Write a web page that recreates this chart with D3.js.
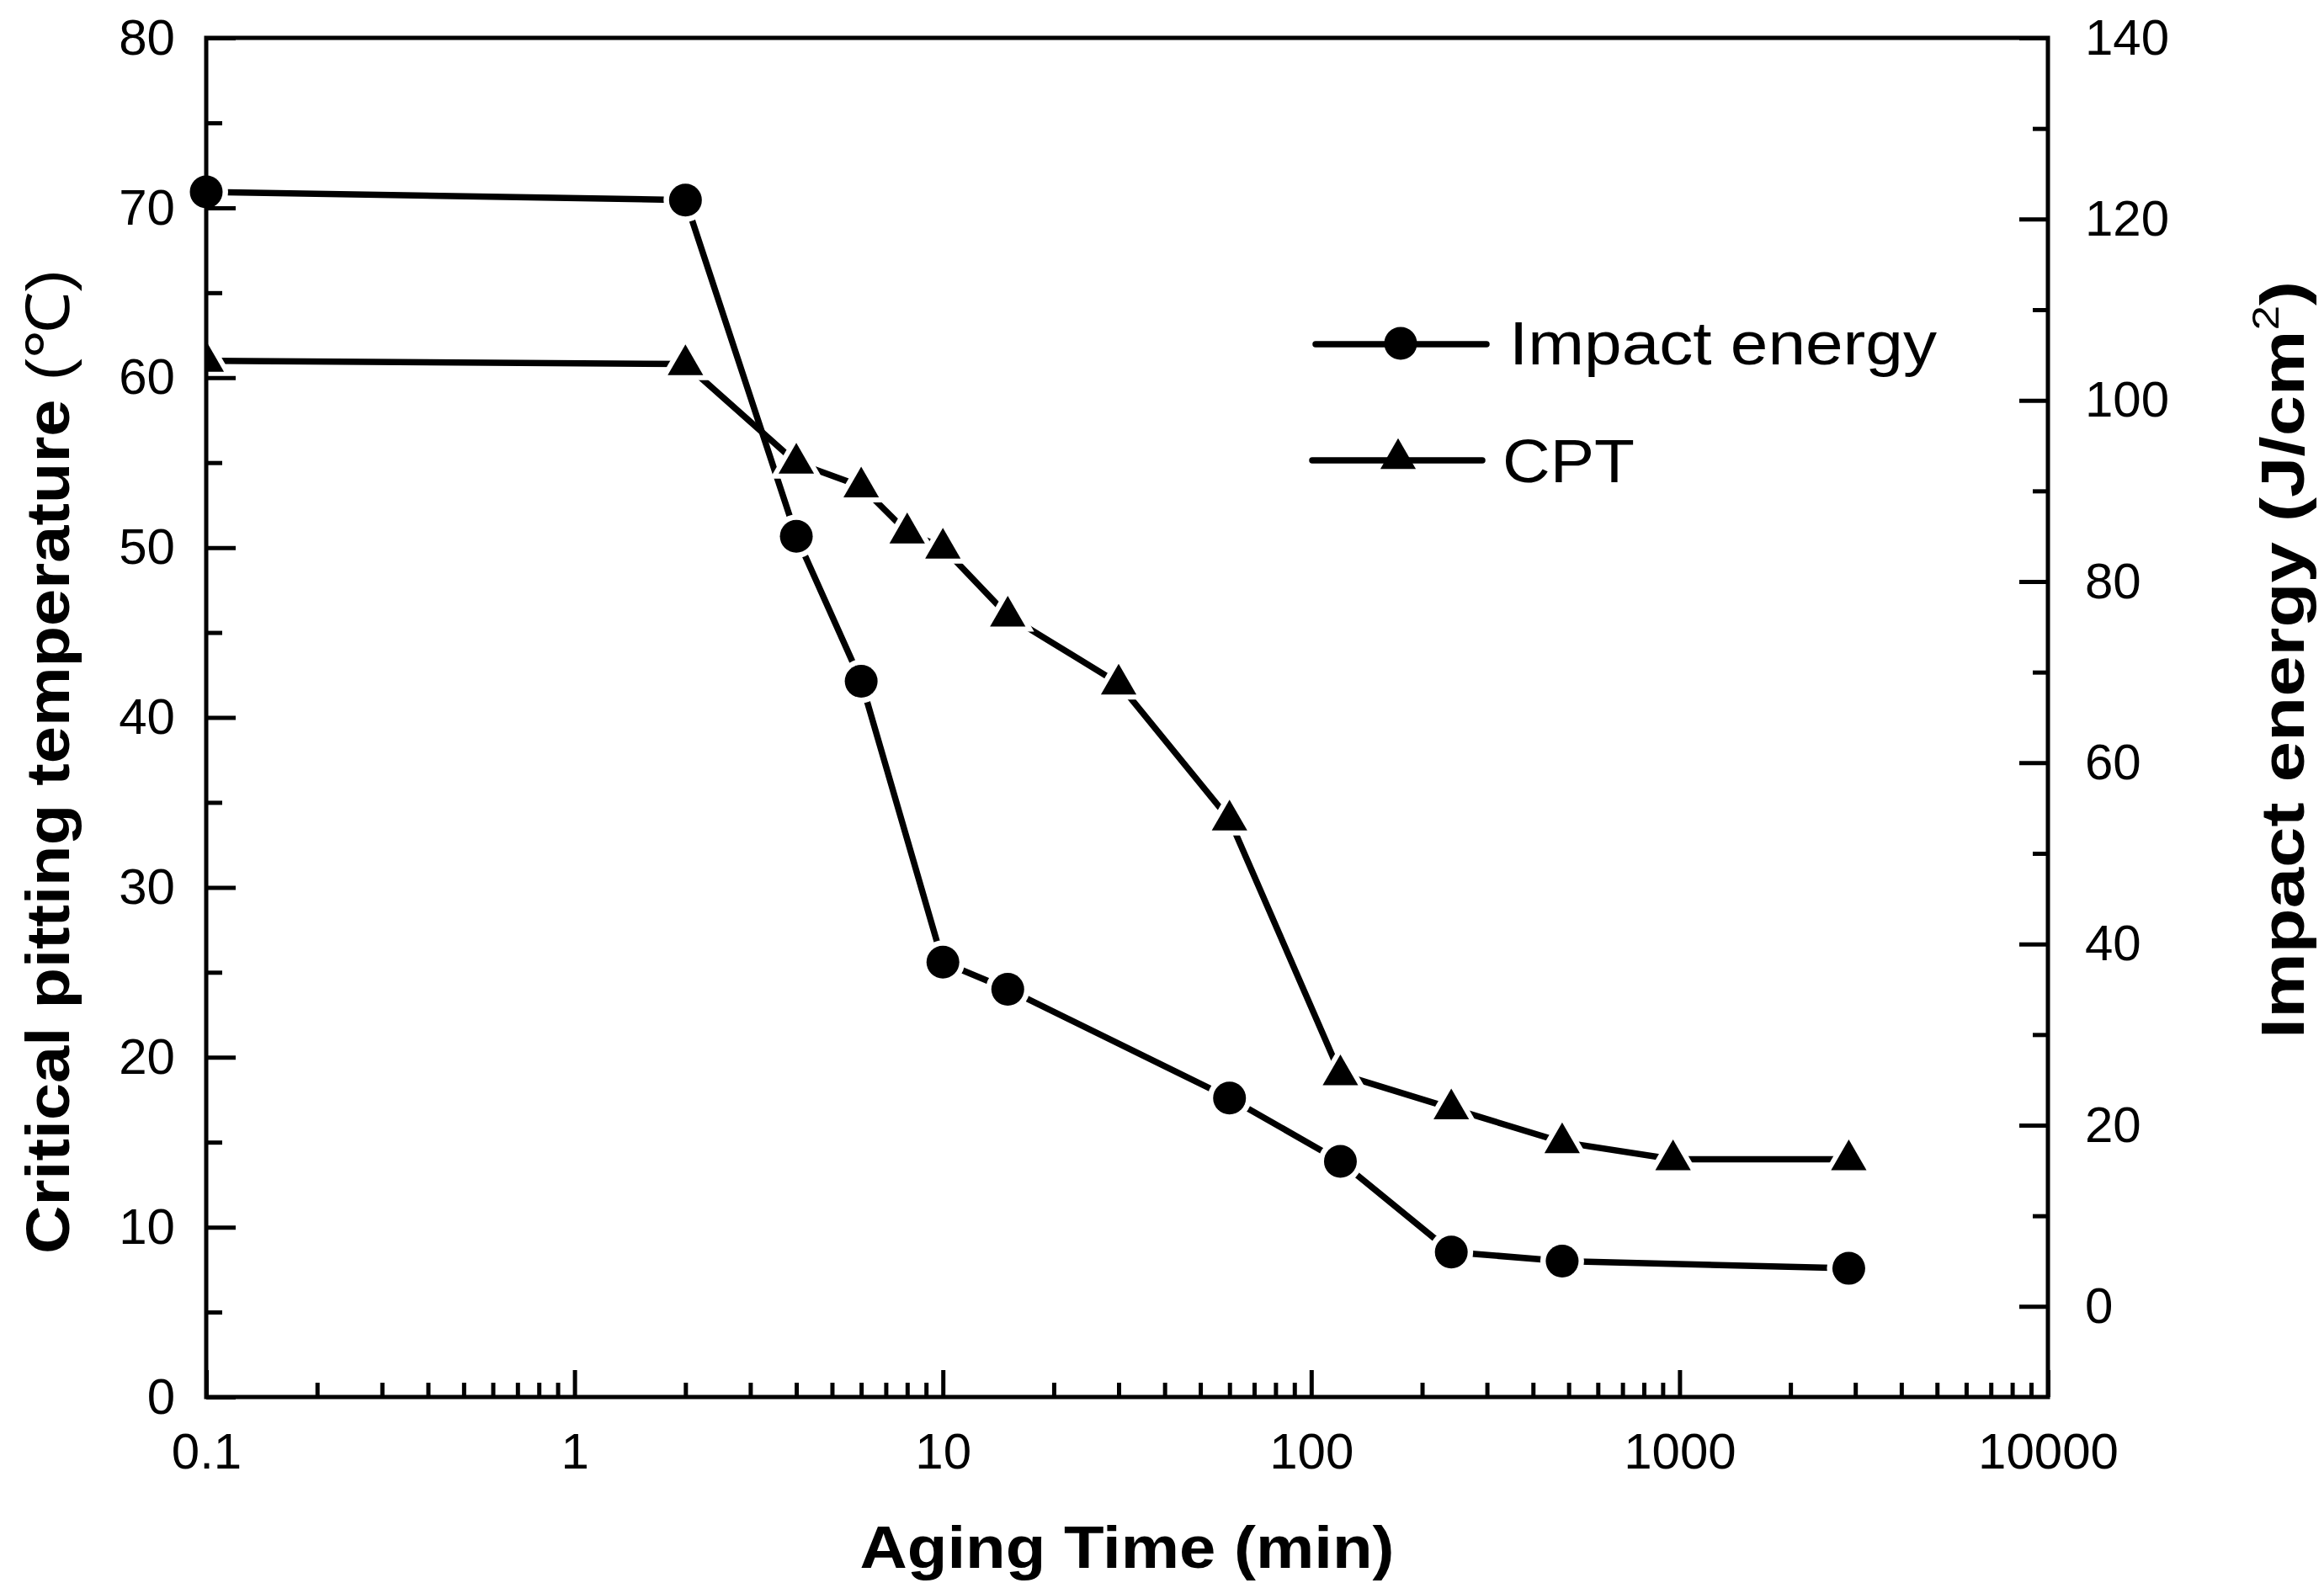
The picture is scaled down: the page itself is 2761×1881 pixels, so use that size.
<!DOCTYPE html>
<html>
<head>
<meta charset="utf-8">
<script src="https://cdn.jsdelivr.net/npm/d3@7"></script>
<style>
  body { margin: 0; background: #fff; }
  text { font-family: "Liberation Sans", Arial, sans-serif; fill: #000; }
</style>
</head>
<body>
<svg id="chart" width="2761" height="1881"></svg>
<script>
"use strict";

// aging time (min) for each series
var timesImpact = [0.1, 2, 4, 6, 10, 15, 60, 120, 240, 480, 2880];
var impactEnergy = [123, 122.1, 85, 69, 38, 35, 23, 16, 6, 5, 4.2];   // J/cm2, right axis

var timesCPT = [0.1, 2, 4, 6, 8, 10, 15, 30, 60, 120, 240, 480, 960, 2880];
var cptValues = [61, 60.8, 55, 53.6, 50.9, 50, 46, 42, 34, 19, 17, 15, 14, 14]; // deg C, left axis

// tick values
var xMajor = [0.1, 1, 10, 100, 1000, 10000];
var xMinor = [];
[0.1, 1, 10, 100, 1000].forEach(function(d) {
    for (var k = 2; k <= 9; k++) xMinor.push(d * k);
});
var leftMajor = [0, 10, 20, 30, 40, 50, 60, 70, 80];
var leftMinor = [5, 15, 25, 35, 45, 55, 65, 75];
var rightMajor = [0, 20, 40, 60, 80, 100, 120, 140];
var rightMinor = [10, 30, 50, 70, 90, 110, 130];

var legendNames = ["Impact energy", "CPT"];

var svg = d3.select("#chart");
var plotLeft = 245, plotRight = 2433, plotTop = 45, plotBottom = 1660;

var x = d3.scaleLog().domain([0.1, 10000]).range([plotLeft, plotRight]);
var yL = d3.scaleLinear().domain([0, 80]).range([plotBottom, plotTop]);
var yR = d3.scaleLinear().domain([-10, 140]).range([plotBottom, plotTop]);

svg.append("rect").attr("width", 2761).attr("height", 1881).attr("fill", "#fff");

svg.append("defs").append("clipPath").attr("id", "plotClip")
    .append("rect").attr("x", plotLeft).attr("y", plotTop)
    .attr("width", plotRight - plotLeft).attr("height", plotBottom - plotTop);

var impactData = timesImpact.map(function(t, i) { return {t: t, v: impactEnergy[i]}; });
var cptData = timesCPT.map(function(t, i) { return {t: t, v: cptValues[i]}; });

var circleSym = d3.symbol().type(d3.symbolCircle).size(Math.PI * 19.5 * 19.5);
var triSym = d3.symbol().type(d3.symbolTriangle).size(770);
var circleHalo = d3.symbol().type(d3.symbolCircle).size(Math.PI * 26 * 26);
var triHalo = d3.symbol().type(d3.symbolTriangle).size(1700);

// lines
var lineImpact = d3.line().x(function(d) { return x(d.t); }).y(function(d) { return yR(d.v); });
var lineCPT = d3.line().x(function(d) { return x(d.t); }).y(function(d) { return yL(d.v); });

svg.append("path").datum(impactData).attr("d", lineImpact)
    .attr("fill", "none").attr("stroke", "#000").attr("stroke-width", 7.5);
svg.append("path").datum(cptData).attr("d", lineCPT)
    .attr("fill", "none").attr("stroke", "#000").attr("stroke-width", 7.5);

// white halos so lines stop short of markers
svg.append("g").selectAll("path").data(impactData).enter().append("path")
    .attr("d", circleHalo).attr("fill", "#fff")
    .attr("transform", function(d) { return "translate(" + x(d.t) + "," + yR(d.v) + ")"; });
svg.append("g").attr("clip-path", "url(#plotClip)")
    .selectAll("path").data(cptData).enter().append("path")
    .attr("d", triHalo).attr("fill", "#fff")
    .attr("transform", function(d) { return "translate(" + x(d.t) + "," + (yL(d.v) + 1) + ")"; });

// frame and axes
svg.append("rect").attr("x", plotLeft).attr("y", plotTop)
    .attr("width", plotRight - plotLeft).attr("height", plotBottom - plotTop)
    .attr("fill", "none").attr("stroke", "#000").attr("stroke-width", 5);

function styleAxis(g) {
    g.select(".domain").remove();
    g.selectAll("line").attr("stroke", "#000").attr("stroke-width", 5);
    g.selectAll("text").attr("font-size", 60).attr("font-family", "Liberation Sans, Arial, sans-serif");
}

svg.append("g").attr("transform", "translate(0," + plotBottom + ")")
    .call(d3.axisBottom(x).tickValues(xMajor).tickSizeInner(-32).tickSizeOuter(0).tickPadding(42)
        .tickFormat(function(d) { return String(d); }))
    .call(styleAxis);
svg.append("g").attr("transform", "translate(0," + plotBottom + ")")
    .call(d3.axisBottom(x).tickValues(xMinor).tickSizeInner(-17).tickSizeOuter(0).tickFormat(""))
    .call(styleAxis);

svg.append("g").attr("transform", "translate(" + plotLeft + ",0)")
    .call(d3.axisLeft(yL).tickValues(leftMajor).tickSizeInner(-35).tickSizeOuter(0).tickPadding(37))
    .call(styleAxis);
svg.append("g").attr("transform", "translate(" + plotLeft + ",0)")
    .call(d3.axisLeft(yL).tickValues(leftMinor).tickSizeInner(-19).tickSizeOuter(0).tickFormat(""))
    .call(styleAxis);

svg.append("g").attr("transform", "translate(" + plotRight + ",0)")
    .call(d3.axisRight(yR).tickValues(rightMajor).tickSizeInner(-34).tickSizeOuter(0).tickPadding(44))
    .call(styleAxis);
svg.append("g").attr("transform", "translate(" + plotRight + ",0)")
    .call(d3.axisRight(yR).tickValues(rightMinor).tickSizeInner(-18).tickSizeOuter(0).tickFormat(""))
    .call(styleAxis);

// markers
svg.append("g").selectAll("path").data(impactData).enter().append("path")
    .attr("d", circleSym).attr("fill", "#000")
    .attr("transform", function(d) { return "translate(" + x(d.t) + "," + yR(d.v) + ")"; });
svg.append("g").attr("clip-path", "url(#plotClip)")
    .selectAll("path").data(cptData).enter().append("path")
    .attr("d", triSym).attr("fill", "#000")
    .attr("transform", function(d) { return "translate(" + x(d.t) + "," + (yL(d.v) + 1) + ")"; });

// legend
var legend = svg.append("g");
legend.append("line").attr("x1", 1563).attr("x2", 1766).attr("y1", 409).attr("y2", 409)
    .attr("stroke", "#000").attr("stroke-width", 7.5).attr("stroke-linecap", "round");
legend.append("path").attr("d", circleSym).attr("transform", "translate(1664,408)");
legend.append("text").attr("x", 1793).attr("y", 433).attr("font-size", 72)
    .attr("textLength", 508).attr("lengthAdjust", "spacingAndGlyphs").text(legendNames[0]);

legend.append("line").attr("x1", 1559).attr("x2", 1761).attr("y1", 547).attr("y2", 547)
    .attr("stroke", "#000").attr("stroke-width", 7.5).attr("stroke-linecap", "round");
legend.append("path").attr("d", triSym).attr("transform", "translate(1661,545)");
legend.append("text").attr("x", 1785).attr("y", 573).attr("font-size", 72)
    .attr("textLength", 157).attr("lengthAdjust", "spacingAndGlyphs").text(legendNames[1]);

// axis titles
svg.append("text").attr("x", (plotLeft + plotRight) / 2).attr("y", 1863)
    .attr("text-anchor", "middle").attr("font-size", 70).attr("font-weight", "bold")
    .attr("textLength", 635).attr("lengthAdjust", "spacingAndGlyphs")
    .text("Aging Time (min)");

var yTitle = svg.append("text").attr("transform", "translate(82,905) rotate(-90)")
    .attr("text-anchor", "middle").attr("font-size", 72)
    .attr("textLength", 1170).attr("lengthAdjust", "spacingAndGlyphs");
yTitle.append("tspan").attr("font-weight", "bold").text("Critical pitting temperature ");
yTitle.append("tspan").attr("font-weight", "normal").text("(℃)");

var yTitleR = svg.append("text").attr("transform", "translate(2737,784) rotate(-90)")
    .attr("text-anchor", "middle").attr("font-size", 72).attr("font-weight", "bold")
    .attr("textLength", 900).attr("lengthAdjust", "spacingAndGlyphs");
yTitleR.append("tspan").text("Impact energy (J/cm");
yTitleR.append("tspan").attr("font-size", 44).attr("dy", -30).attr("font-weight", "normal").text("2");
yTitleR.append("tspan").attr("dy", 30).text(")");
</script>
</body>
</html>
